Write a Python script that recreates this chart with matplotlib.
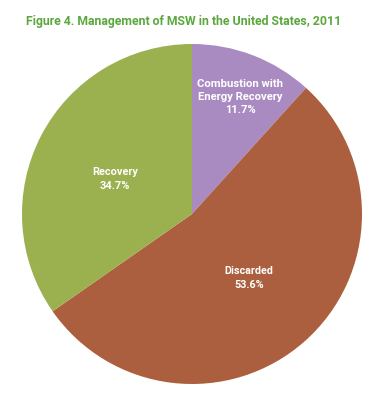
import matplotlib.pyplot as plt
import numpy as np

labels = ["Combustion with\nEnergy Recovery", "Discarded", "Recovery"]
shares = [11.7, 53.6, 34.7]
slice_colors = ["#a98bc1", "#ac5f3e", "#9bb04f"]

# label block centres in pixels from top-left, and target widths of widest line
label_xy = [(240, 97), (249, 278), (115, 179)]
label_w = [86, 49, 46]

fig = plt.figure(figsize=(3.71, 3.93), dpi=100)
ax = fig.add_axes([0, 0, 1, 1])

cx, cy, r = 192, 393 - 214, 170
wedges, _ = ax.pie(shares, colors=slice_colors, startangle=90, counterclock=False,
                   center=(cx, cy), radius=r, frame=True)
ax.set_xlim(0, 371)
ax.set_ylim(0, 393)
ax.set_aspect("equal")
ax.axis("off")

renderer = fig.canvas.get_renderer()


def fit_width(t, target):
    bb = t.get_window_extent(renderer)
    t.set_fontsize(t.get_fontsize() * target / bb.width)


fam = "Roboto"
for lab, val, (x, y), w in zip(labels, shares, label_xy, label_w):
    widest = max(lab.split("\n"), key=len)
    probe = ax.text(0, 0, widest, fontsize=10, fontweight="bold", family=fam)
    fit_width(probe, w)
    size = probe.get_fontsize()
    probe.remove()
    ax.text(x, 393 - y, f"{lab}\n{val}%", ha="center", va="center", color="white",
            fontsize=size, fontweight="bold", family=fam, linespacing=1.4)

title = ax.text(184, 393 - 21, "Figure 4. Management of MSW in the United States, 2011",
                ha="center", va="center", color="#5aa83c", fontsize=10,
                fontweight="bold", family=fam)
fit_width(title, 318)

fig.savefig("out.png", dpi=100)
